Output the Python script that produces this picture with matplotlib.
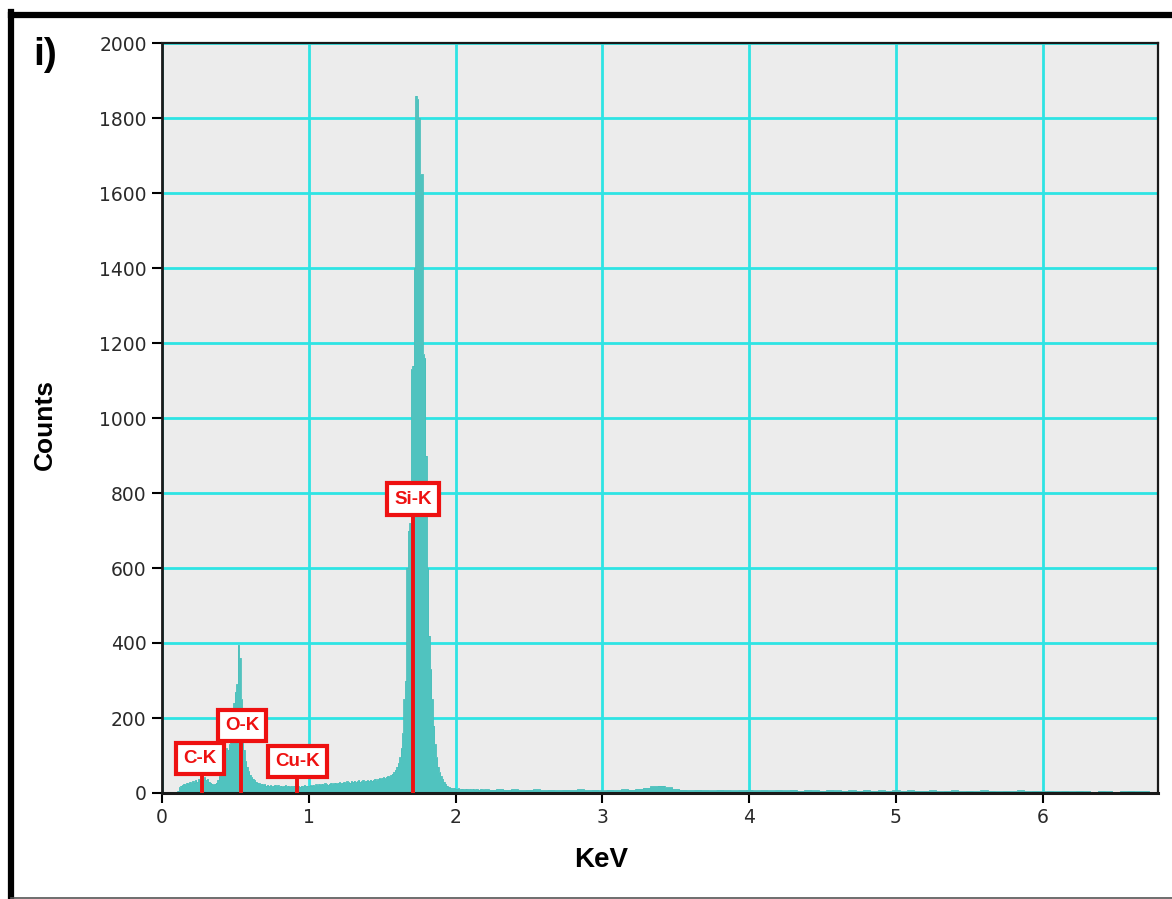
import numpy as np
import matplotlib
matplotlib.use("Agg")
import matplotlib.pyplot as plt
from matplotlib.lines import Line2D

# ---------------- data ----------------
# fine part of spectrum: 0.10 keV .. 2.19 keV in 0.01 keV steps
counts_fine = [
    0, 6, 15, 20, 22, 25, 22, 28, 25, 30,
    27, 32, 28, 35, 30, 38, 33, 40, 36, 42,
    35, 38, 30, 28, 25, 22, 25, 28, 35, 45,
    60, 75, 95, 110, 120, 115, 130, 150, 200, 240,
    270, 290, 395, 360, 250, 160, 115, 85, 70, 58,
    48, 42, 38, 35, 30, 28, 26, 24, 25, 22,
    24, 20, 22, 19, 21, 18, 20, 22, 19, 21,
    18, 20, 17, 19, 21, 18, 20, 17, 19, 18,
    20, 18, 21, 19, 17, 20, 18, 22, 19, 20,
    18, 21, 20, 22, 19, 23, 21, 24, 22, 25,
    23, 26, 24, 22, 25, 27, 24, 26, 28, 25,
    27, 29, 26, 28, 30, 27, 31, 29, 28, 32,
    30, 33, 29, 31, 34, 30, 32, 35, 31, 33,
    34, 32, 36, 33, 35, 38, 34, 37, 40, 38,
    40, 42, 39, 44, 46, 43, 48, 52, 56, 62,
    70, 80, 95, 120, 160, 250, 300, 600, 700, 720,
    1130, 1140, 1400, 1860, 1850, 1800, 1650, 1650, 1170, 1160,
    900, 600, 420, 330, 250, 180, 130, 95, 70, 55,
    45, 38, 30, 25, 20, 17, 15, 14, 13, 14,
    12, 11, 13, 10, 12, 11, 10, 12, 11, 10,
    11, 10, 12, 9, 11, 10, 9, 11, 10, 9,
]
# coarse part of spectrum: 2.20 keV .. 6.80 keV in 0.05 keV steps
counts_coarse = [
    10, 9, 11, 9, 10, 8, 9, 10, 8, 9,
    8, 9, 8, 10, 8, 9, 7, 9, 8, 10,
    9, 11, 14, 18, 20, 15, 11, 9, 8, 9,
    8, 7, 9, 8, 7, 8, 9, 7, 8, 7,
    8, 7, 9, 6, 8, 7, 6, 8, 7, 6,
    7, 6, 8, 6, 7, 6, 7, 5, 7, 6,
    6, 7, 5, 6, 7, 5, 6, 5, 7, 6,
    5, 6, 5, 7, 5, 6, 5, 6, 5, 6,
    5, 6, 5, 4, 6, 5, 4, 5, 6, 5,
    5, 4, 5,
]
fine_start, fine_step = 0.10, 0.01
coarse_start, coarse_step = 2.20, 0.05

peak_labels = ["C-K", "O-K", "Cu-K", "Si-K"]
peak_energy = [0.27, 0.54, 0.92, 1.71]
label_y = [93, 181, 85, 784]
label_x = [0.26, 0.545, 0.926, 1.71]

xticks = [0, 1, 2, 3, 4, 5, 6]
yticks = [0, 200, 400, 600, 800, 1000, 1200, 1400, 1600, 1800, 2000]

# ---------------- figure ----------------
W, H = 1172, 899
fig = plt.figure(figsize=(W / 100, H / 100), dpi=100)
fig.patch.set_facecolor("white")

ax = fig.add_axes([162 / W, 1 - 793 / H, (1158 - 162) / W, (793 - 43) / H])
ax.set_facecolor("#ececec")

e_fine = fine_start + fine_step * np.arange(len(counts_fine))
e_coarse = coarse_start + coarse_step * np.arange(len(counts_coarse))
energy = np.concatenate([e_fine, e_coarse])
counts = np.concatenate([counts_fine, counts_coarse]).astype(float)

ax.set_axisbelow(True)
ax.grid(True, color="#2ee4e4", lw=2.0, zorder=0)
ax.fill_between(energy, counts, step="mid", color="#50c3bf", lw=0, zorder=2)
ax.step(energy, counts, where="mid", color="#4abfbb", lw=0.6, zorder=2)

for lab, e, ly, lx in zip(peak_labels, peak_energy, label_y, label_x):
    ax.plot([e, e], [0, ly], color="#ee1111", lw=2.8, zorder=4, solid_capstyle="butt")
    ax.text(lx, ly, lab, ha="center", va="center", color="#ee1111",
            fontsize=13.5, fontweight="bold", family="Liberation Sans", zorder=5,
            bbox=dict(boxstyle="square,pad=0.38", fc="white", ec="#ee1111", lw=3.0))

ax.set_xlim(0, 6.785)
ax.set_ylim(0, 2000)
ax.set_xticks(xticks)
ax.set_yticks(yticks)
ax.tick_params(axis="both", direction="out", length=7, width=1.5, color="black",
               labelsize=13.5, labelcolor="#2a2a2a", pad=4)
for s in ax.spines.values():
    s.set_color("#1a1a1a")
    s.set_linewidth(1.6)
ax.spines["bottom"].set_linewidth(2.2)
ax.spines["left"].set_linewidth(2.0)

fig.text(601 / W, 1 - 860 / H, "KeV", ha="center", va="center", fontsize=20,
         fontweight="bold", family="Liberation Sans")
fig.text(45 / W, 1 - 424 / H, "Counts", ha="center", va="center", fontsize=19,
         fontweight="bold", family="Liberation Sans", rotation=90)
fig.text(45 / W, 1 - 55 / H, "i)", ha="center", va="center", fontsize=28,
         fontweight="bold", family="Liberation Sans")

# outer frame
fig.add_artist(Line2D([11 / W, 11 / W], [0, 1 - 12 / H], color="black", lw=4.5,
                      transform=fig.transFigure, solid_capstyle="projecting"))
fig.add_artist(Line2D([11 / W, 1.0], [1 - 15 / H, 1 - 15 / H], color="black", lw=4.5,
                      transform=fig.transFigure, solid_capstyle="projecting"))
fig.add_artist(Line2D([11 / W, 1.0], [1.5 / H, 1.5 / H], color="#555555", lw=1.2,
                      transform=fig.transFigure))

fig.savefig("out.png", dpi=100, facecolor="white")
